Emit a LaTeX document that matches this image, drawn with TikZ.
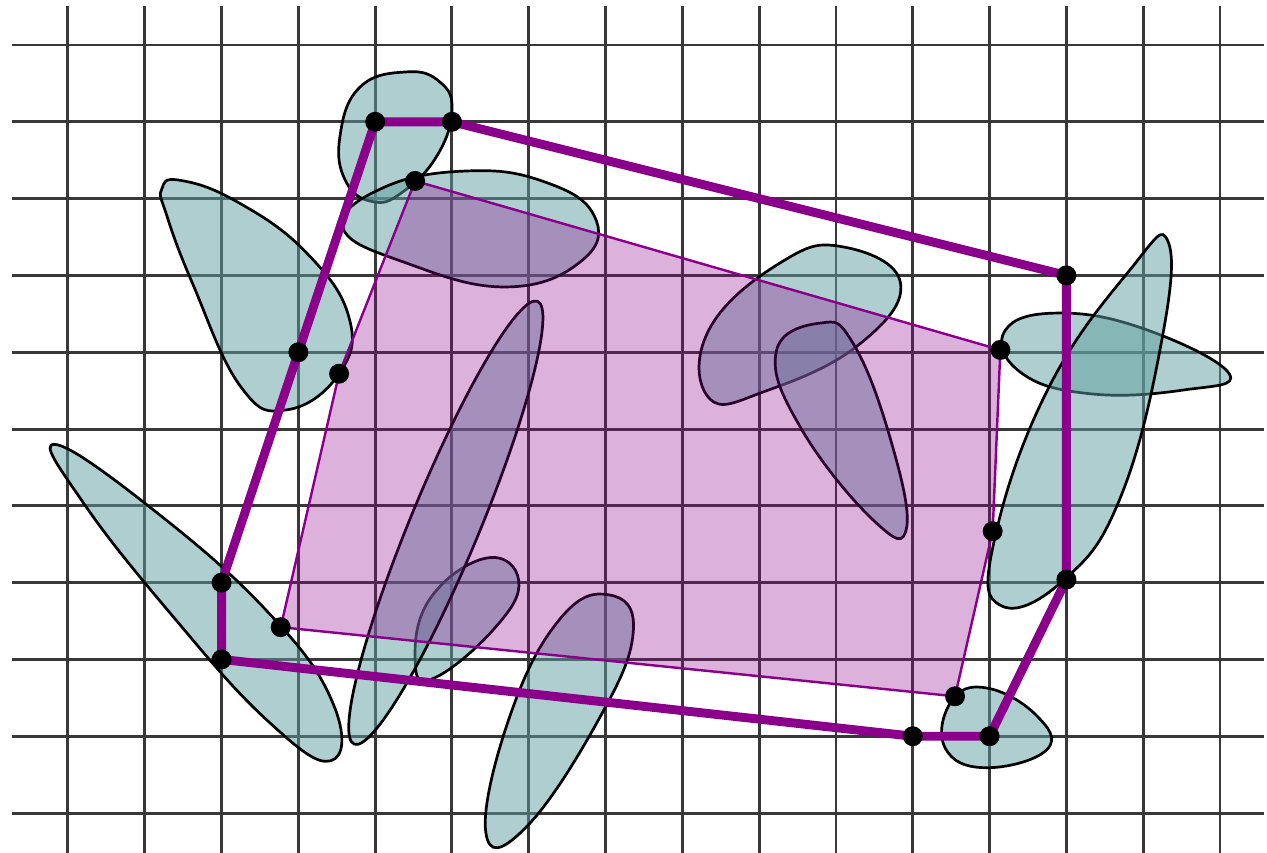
\documentclass[tikz,border=0pt]{standalone}
\usepackage{tikz}
\usetikzlibrary{calc}
\usepackage{xcolor}
\definecolor{GridGray}{RGB}{56,56,56}
\definecolor{BlobTeal}{RGB}{95,158,160}
\definecolor{HullPurple}{RGB}{139,0,139}
\begin{document}
\begin{tikzpicture}[
  gridline/.style={draw=GridGray,line width=1.1pt},
  blob/.style={draw=black,line width=1.0pt,fill=BlobTeal,fill opacity=0.5},
  inner/.style={draw=HullPurple,line width=0.9pt,fill=HullPurple,fill opacity=0.3,line join=round},
  hull/.style={draw=HullPurple,line width=3.3pt,line join=round},
  dot/.style={fill=black},
]
\useasboundingbox (-0.885,-0.508) rectangle (15.612,10.586);
\foreach \x in {0,...,15}
  \draw[gridline] (\x,-0.6) -- (\x,10.51);
\foreach \y in {0,...,10}
  \draw[gridline] (-0.73,\y) -- (15.57,\y);
\coordinate (h1) at (4,9);
\coordinate (h2) at (5,9);
\coordinate (h3) at (13,7);
\coordinate (h4) at (13,3.04);
\coordinate (h5) at (12,1);
\coordinate (h6) at (11,1);
\coordinate (h7) at (2,2);
\coordinate (h8) at (2,3);
\coordinate (h9) at (3,6);
\coordinate (p1) at (4.52,8.23);
\coordinate (p2) at (12.14,6.03);
\coordinate (p3) at (12.04,3.67);
\coordinate (p4) at (11.55,1.52);
\coordinate (p5) at (2.77,2.42);
\coordinate (p6) at (3.53,5.72);
\draw[blob] plot[smooth cycle,tension=0.75] coordinates {(4.41,9.65) (4.84,9.52) (5.00,9.15) (4.80,8.55) (4.35,8.08) (3.97,7.96) (3.62,8.22) (3.54,8.80) (3.80,9.45)};
\draw[blob] plot[smooth cycle,tension=0.75] coordinates {(3.58,7.62) (4.41,7.16) (5.72,6.85) (6.70,7.20) (6.85,7.78) (6.20,8.22) (5.20,8.36) (4.10,8.14)};
\draw[blob] plot[smooth cycle,tension=0.75] coordinates {(1.28,7.80) (1.22,8.12) (1.45,8.24) (2.20,7.96) (3.10,7.30) (3.66,6.45) (3.53,5.72) (2.85,5.25) (2.25,5.55) (1.62,6.90)};
\draw[blob] plot[smooth cycle,tension=0.75] coordinates {(-0.17,4.80) (1.07,3.98) (2.60,2.62) (3.45,1.43) (3.42,0.68) (2.59,1.21) (1.35,2.58) (0.20,4.04)};
\draw[blob] plot[smooth cycle,tension=0.75] coordinates {(5.45,3.32) (5.87,3.02) (5.55,2.40) (4.75,1.75) (4.52,2.00) (4.72,2.80)};
\draw[blob,rotate around={67.5:(4.92,3.78)}] (4.92,3.78) ellipse (3.12 and 0.45);
\draw[blob] plot[smooth cycle,tension=0.75] coordinates {(7.05,2.84) (7.36,2.35) (6.90,1.20) (5.95,-0.20) (5.44,-0.25) (5.75,1.25) (6.40,2.52)};
\draw[blob] plot[smooth cycle,tension=0.75] coordinates {(10.10,7.37) (10.84,6.90) (10.30,6.10) (9.10,5.50) (8.35,5.40) (8.35,6.30) (9.30,7.18)};
\draw[blob] plot[smooth cycle,tension=0.75] coordinates {(9.80,6.38) (10.22,6.12) (10.70,4.90) (10.92,3.72) (10.50,3.80) (9.55,5.00) (9.22,6.00)};
\draw[blob] plot[smooth cycle,tension=0.75] coordinates {(12.20,6.28) (12.90,6.51) (14.05,6.29) (15.12,5.72) (14.54,5.51) (13.30,5.46) (12.40,5.74)};
\draw[blob] plot[smooth cycle,tension=0.75] coordinates {(14.32,7.45) (14.25,6.20) (13.70,4.10) (12.95,3.02) (12.15,2.70) (12.05,3.50) (12.75,5.50) (13.85,7.10)};
\draw[blob] plot[smooth cycle,tension=0.75] coordinates {(11.95,1.63) (12.60,1.28) (12.75,0.83) (11.95,0.59) (11.42,0.85) (11.50,1.45)};
\draw[inner] (p1) -- (p2) -- (p3) -- (p4) -- (p5) -- (p6) -- cycle;
\draw[hull] (h1) -- (h2) -- (h3) -- (h4) -- (h5) -- (h6) -- (h7) -- (h8) -- (h9) -- cycle;
\foreach \p in {h1,h2,h3,h4,h5,h6,h7,h8,h9,p1,p2,p3,p4,p5,p6}
  \fill[dot] (\p) circle (0.13);
\end{tikzpicture}
\end{document}
